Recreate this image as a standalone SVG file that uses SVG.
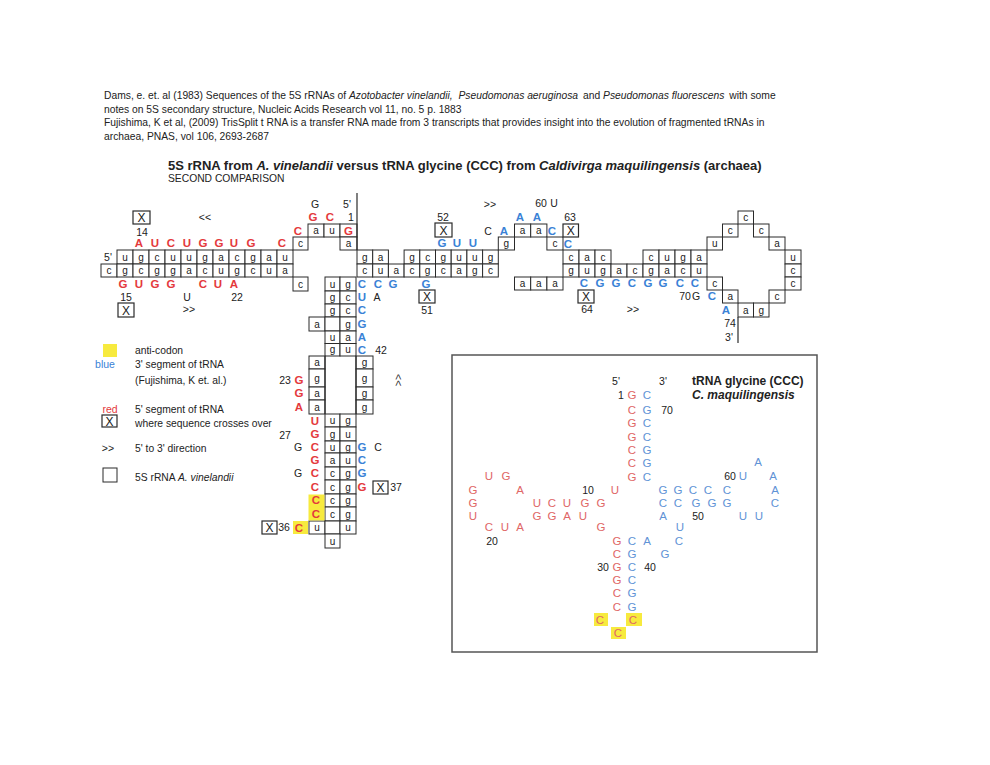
<svg xmlns="http://www.w3.org/2000/svg" width="990" height="765" viewBox="0 0 990 765">
<style>
.bg{fill:#fff}
.c{fill:#fff;stroke:#2a2a2a;stroke-width:1}
.x{fill:#fff;stroke:#2a2a2a;stroke-width:1.2}
text{font-family:'Liberation Sans',Arial,sans-serif}
.t{font-size:10px;text-anchor:middle;fill:#222}
.k{font-size:10.5px;text-anchor:middle;fill:#222}
.xl{font-size:12px;text-anchor:middle;fill:#222}
.r{font-size:11.5px;font-weight:bold;text-anchor:middle;fill:#e4393c}
.b{font-size:11.5px;font-weight:bold;text-anchor:middle;fill:#3a82d6}
.tr{font-size:11.5px;text-anchor:middle;fill:#e06666}
.tb{font-size:11.5px;text-anchor:middle;fill:#5f93d6}
.h{font-size:10.3px;fill:#222}
.yl{fill:#f7ea3e}
.ln{stroke:#2a2a2a;stroke-width:1.2;fill:none}
</style>
<rect class="bg" x="0" y="0" width="990" height="765"/>

<g id="header">
<text class="h" x="104" y="99">Dams, e. et. al (1983) Sequences of the 5S rRNAs of <tspan font-style="italic">Azotobacter vinelandii,</tspan> <tspan dx="3" font-style="italic">Pseudomonas aeruginosa</tspan> <tspan dx="2">and</tspan> <tspan font-style="italic">Pseudomonas fluorescens</tspan> <tspan dx="2">with some</tspan></text>
<text class="h" x="104" y="113">notes on 5S secondary structure, Nucleic Acids Research vol 11, no. 5 p. 1883</text>
<text class="h" x="104" y="126">Fujishima, K et al, (2009) TrisSplit t RNA is a transfer RNA made from 3 transcripts that provides insight into the evolution of fragmented tRNAs in</text>
<text class="h" x="104" y="140">archaea, PNAS, vol 106, 2693-2687</text>
<text x="168" y="170" font-size="13" font-weight="bold" fill="#222">5S rRNA from <tspan font-style="italic">A. vinelandii</tspan>  versus tRNA glycine (CCC) from <tspan font-style="italic">Caldivirga maquilingensis</tspan>  (archaea)</text>
<text class="h" x="168" y="182">SECOND COMPARISON</text>
</g>

<g id="arm-left">
<rect class="c" x="117" y="250" width="16" height="14"/><text class="t" x="125" y="260.5">u</text>
<rect class="c" x="133" y="250" width="16" height="14"/><text class="t" x="141" y="260.5">g</text>
<rect class="c" x="149" y="250" width="16" height="14"/><text class="t" x="157" y="260.5">c</text>
<rect class="c" x="165" y="250" width="16" height="14"/><text class="t" x="173" y="260.5">u</text>
<rect class="c" x="181" y="250" width="16" height="14"/><text class="t" x="189" y="260.5">u</text>
<rect class="c" x="197" y="250" width="16" height="14"/><text class="t" x="205" y="260.5">g</text>
<rect class="c" x="213" y="250" width="16" height="14"/><text class="t" x="221" y="260.5">a</text>
<rect class="c" x="229" y="250" width="16" height="14"/><text class="t" x="237" y="260.5">c</text>
<rect class="c" x="245" y="250" width="16" height="14"/><text class="t" x="253" y="260.5">g</text>
<rect class="c" x="261" y="250" width="16" height="14"/><text class="t" x="269" y="260.5">a</text>
<rect class="c" x="277" y="250" width="16" height="14"/><text class="t" x="285" y="260.5">u</text>
<rect class="c" x="101" y="264" width="16" height="13"/><text class="t" x="109" y="274">c</text>
<rect class="c" x="117" y="264" width="16" height="13"/><text class="t" x="125" y="274">g</text>
<rect class="c" x="133" y="264" width="16" height="13"/><text class="t" x="141" y="274">c</text>
<rect class="c" x="149" y="264" width="16" height="13"/><text class="t" x="157" y="274">g</text>
<rect class="c" x="165" y="264" width="16" height="13"/><text class="t" x="173" y="274">g</text>
<rect class="c" x="181" y="264" width="16" height="13"/><text class="t" x="189" y="274">a</text>
<rect class="c" x="197" y="264" width="16" height="13"/><text class="t" x="205" y="274">c</text>
<rect class="c" x="213" y="264" width="16" height="13"/><text class="t" x="221" y="274">u</text>
<rect class="c" x="229" y="264" width="16" height="13"/><text class="t" x="237" y="274">g</text>
<rect class="c" x="245" y="264" width="16" height="13"/><text class="t" x="253" y="274">c</text>
<rect class="c" x="261" y="264" width="16" height="13"/><text class="t" x="269" y="274">u</text>
<rect class="c" x="277" y="264" width="16" height="13"/><text class="t" x="285" y="274">a</text>
<text class="k" x="108" y="261">5'</text>
<rect class="x" x="133" y="211" width="17" height="13"/><text class="xl" x="141.5" y="222">X</text>
<text class="k" x="142" y="236">14</text>
<text class="k" x="205" y="221">&lt;&lt;</text>
<text class="r" x="139" y="247">A</text><text class="r" x="155" y="247">U</text><text class="r" x="171" y="247">C</text><text class="r" x="187" y="247">U</text>
<text class="r" x="203" y="247">G</text><text class="r" x="219" y="247">G</text><text class="r" x="234" y="247">U</text><text class="r" x="251" y="247">G</text>
<text class="r" x="282" y="247">C</text>
<text class="r" x="123" y="288">G</text><text class="r" x="139" y="288">U</text><text class="r" x="155" y="288">G</text><text class="r" x="171" y="288">G</text>
<text class="r" x="203" y="288">C</text><text class="r" x="218" y="288">U</text><text class="r" x="234" y="288">A</text>
<text class="k" x="126" y="301">15</text><text class="k" x="187" y="301">U</text><text class="k" x="237" y="301">22</text>
<rect class="x" x="118" y="303" width="16" height="14"/><text class="xl" x="126" y="314.5">X</text>
<text class="k" x="189" y="313">&gt;&gt;</text>
</g>

<g id="junction-top">
<rect class="c" x="293" y="237" width="15" height="13"/><text class="t" x="300.5" y="247">c</text>
<rect class="c" x="293" y="277" width="15" height="14"/><text class="t" x="300.5" y="287.5">c</text>
<rect class="c" x="308" y="224" width="16" height="13"/><text class="t" x="316" y="234">a</text>
<rect class="c" x="324" y="224" width="16" height="13"/><text class="t" x="332" y="234">u</text>
<rect class="c" x="340" y="224" width="17" height="13"/><text class="r" x="348.5" y="235">G</text>
<rect class="c" x="340" y="237" width="17" height="13"/><text class="t" x="348.5" y="247">a</text>
<text class="r" x="298" y="235">C</text>
<text class="k" x="315" y="208">G</text><text class="k" x="347" y="208">5'</text>
<text class="r" x="313" y="221">G</text><text class="r" x="330" y="221">C</text>
<text class="k" x="351" y="221">1</text>
<line class="ln" x1="357" y1="193" x2="357" y2="250"/>
</g>

<g id="arm-middle">
<rect class="c" x="357" y="250" width="15.7" height="14"/><text class="t" x="364.85" y="260.5">g</text>
<rect class="c" x="372.7" y="250" width="15.7" height="14"/><text class="t" x="380.55" y="260.5">a</text>
<rect class="c" x="404.1" y="250" width="15.7" height="14"/><text class="t" x="411.95" y="260.5">g</text>
<rect class="c" x="419.8" y="250" width="15.7" height="14"/><text class="t" x="427.65" y="260.5">c</text>
<rect class="c" x="435.5" y="250" width="15.7" height="14"/><text class="t" x="443.35" y="260.5">g</text>
<rect class="c" x="451.2" y="250" width="15.7" height="14"/><text class="t" x="459.05" y="260.5">u</text>
<rect class="c" x="466.9" y="250" width="15.7" height="14"/><text class="t" x="474.75" y="260.5">u</text>
<rect class="c" x="482.6" y="250" width="15.7" height="14"/><text class="t" x="490.45" y="260.5">g</text>
<rect class="c" x="357" y="264" width="15.7" height="13"/><text class="t" x="364.85" y="274">c</text>
<rect class="c" x="372.7" y="264" width="15.7" height="13"/><text class="t" x="380.55" y="274">u</text>
<rect class="c" x="388.4" y="264" width="15.7" height="13"/><text class="t" x="396.25" y="274">a</text>
<rect class="c" x="404.1" y="264" width="15.7" height="13"/><text class="t" x="411.95" y="274">c</text>
<rect class="c" x="419.8" y="264" width="15.7" height="13"/><text class="t" x="427.65" y="274">g</text>
<rect class="c" x="435.5" y="264" width="15.7" height="13"/><text class="t" x="443.35" y="274">c</text>
<rect class="c" x="451.2" y="264" width="15.7" height="13"/><text class="t" x="459.05" y="274">a</text>
<rect class="c" x="466.9" y="264" width="15.7" height="13"/><text class="t" x="474.75" y="274">g</text>
<rect class="c" x="482.6" y="264" width="15.7" height="13"/><text class="t" x="490.45" y="274">c</text>
<text class="k" x="490" y="208">&gt;&gt;</text>
<text class="k" x="443" y="221">52</text>
<rect class="x" x="435" y="223" width="17" height="14"/><text class="xl" x="443.5" y="234.5">X</text>
<text class="b" x="442" y="247">G</text><text class="b" x="457" y="247">U</text><text class="b" x="473" y="247">U</text>
<text class="b" x="362" y="288">C</text><text class="b" x="378" y="288">C</text><text class="b" x="393" y="288">G</text>
<text class="b" x="426" y="288">G</text>
<rect class="x" x="419" y="290" width="16" height="13"/><text class="xl" x="427" y="301">X</text>
<text class="k" x="427" y="314">51</text>
</g>

<g id="loop-top">
<rect class="c" x="498.3" y="237" width="16.2" height="13"/><text class="t" x="506.4" y="247">g</text>
<rect class="c" x="514.5" y="224" width="16.2" height="13"/><text class="t" x="522.6" y="234">a</text>
<rect class="c" x="530.7" y="224" width="16.2" height="13"/><text class="t" x="538.8" y="234">a</text>
<rect class="c" x="546.9" y="237" width="16.1" height="13"/><text class="t" x="555" y="247">c</text>
<rect class="c" x="514.5" y="277" width="16.2" height="13"/><text class="t" x="522.6" y="287">a</text>
<rect class="c" x="530.7" y="277" width="16.2" height="13"/><text class="t" x="538.8" y="287">a</text>
<rect class="c" x="546.9" y="277" width="16.1" height="13"/><text class="t" x="555" y="287">a</text>
<text class="k" x="488" y="235">C</text>
<text class="b" x="504" y="235">A</text>
<text class="k" x="541" y="207">60</text><text class="k" x="554" y="207">U</text>
<text class="b" x="520" y="221">A</text><text class="b" x="537" y="221">A</text>
<text class="k" x="570" y="221">63</text>
<text class="b" x="552" y="235">C</text>
<rect class="x" x="563" y="224" width="15.5" height="13"/><text class="xl" x="570.75" y="235">X</text>
<text class="b" x="568" y="248">C</text>
</g>

<g id="arm-right">
<rect class="c" x="563" y="250" width="16" height="14"/><text class="t" x="571" y="260.5">c</text>
<rect class="c" x="579" y="250" width="16" height="14"/><text class="t" x="587" y="260.5">a</text>
<rect class="c" x="595" y="250" width="16" height="14"/><text class="t" x="603" y="260.5">c</text>
<rect class="c" x="643" y="250" width="16" height="14"/><text class="t" x="651" y="260.5">c</text>
<rect class="c" x="659" y="250" width="16" height="14"/><text class="t" x="667" y="260.5">u</text>
<rect class="c" x="675" y="250" width="16" height="14"/><text class="t" x="683" y="260.5">g</text>
<rect class="c" x="691" y="250" width="16" height="14"/><text class="t" x="699" y="260.5">a</text>
<rect class="c" x="563" y="264" width="16" height="13"/><text class="t" x="571" y="274">g</text>
<rect class="c" x="579" y="264" width="16" height="13"/><text class="t" x="587" y="274">u</text>
<rect class="c" x="595" y="264" width="16" height="13"/><text class="t" x="603" y="274">g</text>
<rect class="c" x="611" y="264" width="16" height="13"/><text class="t" x="619" y="274">a</text>
<rect class="c" x="627" y="264" width="16" height="13"/><text class="t" x="635" y="274">c</text>
<rect class="c" x="643" y="264" width="16" height="13"/><text class="t" x="651" y="274">g</text>
<rect class="c" x="659" y="264" width="16" height="13"/><text class="t" x="667" y="274">a</text>
<rect class="c" x="675" y="264" width="16" height="13"/><text class="t" x="683" y="274">c</text>
<rect class="c" x="691" y="264" width="16" height="13"/><text class="t" x="699" y="274">u</text>
<text class="b" x="584" y="287">C</text><text class="b" x="600" y="287">G</text><text class="b" x="616" y="287">G</text><text class="b" x="632" y="287">C</text>
<text class="b" x="648" y="287">G</text><text class="b" x="663" y="287">G</text><text class="b" x="680" y="287">C</text><text class="b" x="695" y="287">C</text>
<rect class="x" x="578" y="290" width="16" height="13"/><text class="xl" x="586" y="301">X</text>
<text class="k" x="587" y="313">64</text>
<text class="k" x="633" y="313">&gt;&gt;</text>
</g>

<g id="loop-right">
<rect class="c" x="707" y="237" width="15.5" height="13"/><text class="t" x="714.75" y="247">u</text>
<rect class="c" x="722.5" y="224" width="15.5" height="13"/><text class="t" x="730.25" y="234">c</text>
<rect class="c" x="738" y="211" width="15.5" height="13"/><text class="t" x="745.75" y="221">c</text>
<rect class="c" x="753.5" y="224" width="15.5" height="13"/><text class="t" x="761.25" y="234">c</text>
<rect class="c" x="769" y="237" width="16" height="13"/><text class="t" x="777" y="247">a</text>
<rect class="c" x="785" y="250" width="16" height="14"/><text class="t" x="793" y="260.5">u</text>
<rect class="c" x="785" y="264" width="16" height="13"/><text class="t" x="793" y="274">c</text>
<rect class="c" x="785" y="277" width="16" height="13"/><text class="t" x="793" y="287">c</text>
<rect class="c" x="769" y="290" width="16" height="13"/><text class="t" x="777" y="300">c</text>
<rect class="c" x="753.5" y="303" width="15.5" height="14"/><text class="t" x="761.25" y="313.5">g</text>
<rect class="c" x="738" y="303" width="15.5" height="14"/><text class="t" x="745.75" y="313.5">a</text>
<rect class="c" x="722.5" y="290" width="15.5" height="13"/><text class="t" x="730.25" y="300">a</text>
<rect class="c" x="707" y="277" width="15.5" height="13"/><text class="t" x="714.75" y="287">c</text>
<text class="k" x="685" y="300">70</text><text class="k" x="696" y="300">G</text>
<text class="b" x="712" y="300">C</text>
<text class="b" x="726" y="314">A</text>
<text class="k" x="730" y="327">74</text>
<text class="k" x="729" y="341">3'</text>
<line class="ln" x1="738" y1="317" x2="738" y2="343"/>
</g>

<g id="stem">
<rect class="c" x="325" y="277" width="15" height="14"/><text class="t" x="332.5" y="287.5">u</text>
<rect class="c" x="340" y="277" width="16" height="14"/><text class="t" x="348" y="287.5">g</text>
<rect class="c" x="325" y="291" width="15" height="13"/><text class="t" x="332.5" y="301">g</text>
<rect class="c" x="340" y="291" width="16" height="13"/><text class="t" x="348" y="301">c</text>
<rect class="c" x="325" y="304" width="15" height="13"/><text class="t" x="332.5" y="314">g</text>
<rect class="c" x="340" y="304" width="16" height="13"/><text class="t" x="348" y="314">c</text>
<rect class="c" x="309" y="317" width="16" height="14"/><text class="t" x="317" y="327.5">a</text>
<rect class="c" x="325" y="317" width="15" height="14"/>
<rect class="c" x="340" y="317" width="16" height="14"/><text class="t" x="348" y="327.5">g</text>
<rect class="c" x="325" y="331" width="15" height="12.5"/><text class="t" x="332.5" y="340.7">u</text>
<rect class="c" x="340" y="331" width="16" height="12.5"/><text class="t" x="348" y="340.7">a</text>
<rect class="c" x="325" y="343.5" width="15" height="12.5"/><text class="t" x="332.5" y="353.2">g</text>
<rect class="c" x="340" y="343.5" width="16" height="12.5"/><text class="t" x="348" y="353.2">u</text>
<rect class="c" x="309" y="356" width="16" height="13"/><text class="t" x="317" y="366">a</text>
<rect class="c" x="309" y="369" width="16" height="18"/><text class="t" x="317" y="381.5">g</text>
<rect class="c" x="309" y="387" width="16" height="13"/><text class="t" x="317" y="397">a</text>
<rect class="c" x="309" y="400" width="16" height="14"/><text class="t" x="317" y="410.5">a</text>
<rect class="c" x="356" y="356" width="17" height="13"/><text class="t" x="364.5" y="366">g</text>
<rect class="c" x="356" y="369" width="17" height="18"/><text class="t" x="364.5" y="381.5">g</text>
<rect class="c" x="356" y="387" width="17" height="13"/><text class="t" x="364.5" y="397">g</text>
<rect class="c" x="356" y="400" width="17" height="14"/><text class="t" x="364.5" y="410.5">g</text>
<line class="ln" x1="325" y1="356" x2="325" y2="414"/>
<line class="ln" x1="356" y1="356" x2="356" y2="414"/>
<rect class="c" x="325" y="414" width="15" height="13"/><text class="t" x="332.5" y="424">u</text>
<rect class="c" x="340" y="414" width="16" height="13"/><text class="t" x="348" y="424">g</text>
<rect class="c" x="325" y="427" width="15" height="14"/><text class="t" x="332.5" y="437.5">g</text>
<rect class="c" x="340" y="427" width="16" height="14"/><text class="t" x="348" y="437.5">u</text>
<rect class="c" x="325" y="441" width="15" height="12"/><text class="t" x="332.5" y="450.5">u</text>
<rect class="c" x="340" y="441" width="16" height="12"/><text class="t" x="348" y="450.5">g</text>
<rect class="c" x="325" y="453" width="15" height="14"/><text class="t" x="332.5" y="463.5">a</text>
<rect class="c" x="340" y="453" width="16" height="14"/><text class="t" x="348" y="463.5">u</text>
<rect class="c" x="325" y="467" width="15" height="13"/><text class="t" x="332.5" y="477">c</text>
<rect class="c" x="340" y="467" width="16" height="13"/><text class="t" x="348" y="477">g</text>
<rect class="c" x="325" y="480" width="15" height="14"/><text class="t" x="332.5" y="490.5">c</text>
<rect class="c" x="340" y="480" width="16" height="14"/><text class="t" x="348" y="490.5">g</text>
<rect class="c" x="325" y="494" width="15" height="13"/><text class="t" x="332.5" y="504">c</text>
<rect class="c" x="340" y="494" width="16" height="13"/><text class="t" x="348" y="504">g</text>
<rect class="c" x="325" y="507" width="15" height="14"/><text class="t" x="332.5" y="517.5">c</text>
<rect class="c" x="340" y="507" width="16" height="14"/><text class="t" x="348" y="517.5">g</text>
<rect class="c" x="309" y="521" width="16" height="13"/><text class="t" x="317" y="531">u</text>
<rect class="c" x="325" y="521" width="15" height="13"/>
<rect class="c" x="340" y="521" width="16" height="13"/><text class="t" x="348" y="531">u</text>
<rect class="c" x="325" y="534" width="15" height="14"/><text class="t" x="332.5" y="544.5">u</text>
<text class="b" x="362" y="301">U</text><text class="k" x="377" y="301">A</text>
<text class="b" x="362" y="314">C</text>
<text class="b" x="362" y="328">G</text>
<text class="b" x="362" y="341">A</text>
<text class="b" x="362" y="354">C</text>
<text class="k" x="381" y="354">42</text>
<text class="k" x="285" y="384">23</text>
<text class="r" x="299" y="384">G</text>
<text class="r" x="299" y="397">G</text>
<text class="r" x="299" y="411">A</text>
<text class="k" transform="translate(398,380) rotate(-90)" y="3.5">&gt;&gt;</text>
<text class="r" x="315" y="425">U</text>
<text class="k" x="285" y="439">27</text>
<text class="r" x="315" y="438">G</text>
<text class="k" x="298" y="451">G</text><text class="r" x="315" y="451">C</text>
<text class="b" x="362" y="451">G</text><text class="k" x="378" y="451">C</text>
<text class="r" x="315" y="464">G</text><text class="b" x="362" y="464">C</text>
<text class="k" x="298" y="477">G</text><text class="r" x="315" y="477">C</text><text class="b" x="362" y="477">G</text>
<text class="r" x="315" y="491">C</text><text class="r" x="362" y="491">G</text>
<rect class="x" x="373" y="481" width="15" height="13"/><text class="xl" x="380.5" y="492">X</text>
<text class="k" x="396" y="491">37</text>
<rect class="yl" x="308.5" y="494.5" width="16" height="26"/>
<text class="r" x="316" y="504">C</text>
<text class="r" x="316" y="518">C</text>
<rect class="x" x="262" y="521" width="15" height="13"/><text class="xl" x="269.5" y="532">X</text>
<text class="k" x="284" y="531">36</text>
<rect class="yl" x="293" y="521" width="15" height="13"/>
<text class="r" x="299" y="531.5">C</text>
</g>

<g id="legend">
<rect class="yl" x="103" y="344" width="14" height="13"/>
<text class="h" x="135" y="354">anti-codon</text>
<text x="105" y="368" font-size="10.5" text-anchor="middle" fill="#3a82d6">blue</text>
<text class="h" x="135" y="368">3' segment of tRNA</text>
<text class="h" x="135" y="384">(Fujishima, K et. al.)</text>
<text x="110" y="413" font-size="10.5" text-anchor="middle" fill="#e4393c">red</text>
<text class="h" x="135" y="413">5' segment of tRNA</text>
<rect class="x" x="102" y="415" width="15" height="12"/><text class="xl" x="109.5" y="425.5">X</text>
<text class="h" x="135" y="427">where sequence crosses over</text>
<text class="k" x="108" y="452">&gt;&gt;</text>
<text class="h" x="135" y="452">5' to 3' direction</text>
<rect class="c" x="103" y="468" width="14" height="14"/>
<text class="h" x="135" y="481">5S rRNA <tspan font-style="italic">A. vinelandii</tspan></text>
</g>

<g id="trna">
<rect x="452" y="355" width="365" height="297" fill="none" stroke="#555" stroke-width="1.5"/>
<text class="k" x="616" y="385">5'</text><text class="k" x="663" y="385">3'</text>
<text x="692" y="385" font-size="12" font-weight="bold" fill="#222">tRNA glycine (CCC)</text>
<text x="692" y="399" font-size="12" font-weight="bold" font-style="italic" fill="#222">C. maquilingensis</text>
<text class="k" x="621" y="399">1</text>
<text class="tr" x="632" y="399">G</text><text class="tb" x="647" y="399">C</text>
<text class="tr" x="632" y="414">C</text><text class="tb" x="647" y="414">G</text><text class="k" x="667" y="414">70</text>
<text class="tr" x="632" y="427">G</text><text class="tb" x="647" y="427">C</text>
<text class="tr" x="632" y="441">G</text><text class="tb" x="647" y="441">C</text>
<text class="tr" x="632" y="454">C</text><text class="tb" x="647" y="454">G</text>
<text class="tr" x="632" y="467">C</text><text class="tb" x="647" y="467">G</text>
<text class="tb" x="758" y="466">A</text>
<text class="tr" x="632" y="481">G</text><text class="tb" x="647" y="481">C</text>
<text class="tr" x="489" y="480">U</text><text class="tr" x="506" y="480">G</text>
<text class="k" x="730" y="480">60</text><text class="tb" x="743" y="480">U</text><text class="tb" x="773" y="480">A</text>
<text class="tr" x="473" y="494">G</text><text class="tr" x="520" y="494">A</text><text class="k" x="588" y="494">10</text><text class="tr" x="615" y="494">U</text>
<text class="tb" x="663" y="494">G</text><text class="tb" x="678" y="494">G</text><text class="tb" x="693" y="494">C</text><text class="tb" x="708" y="494">C</text><text class="tb" x="727" y="494">C</text>
<text class="tb" x="775" y="494">A</text>
<text class="tr" x="473" y="507">G</text>
<text class="tr" x="537" y="507">U</text><text class="tr" x="552" y="507">C</text><text class="tr" x="567" y="507">U</text><text class="tr" x="585" y="507">G</text><text class="tr" x="601" y="507">G</text>
<text class="tb" x="663" y="507">C</text><text class="tb" x="678" y="507">C</text><text class="tb" x="696" y="507">G</text><text class="tb" x="712" y="507">G</text><text class="tb" x="727" y="507">G</text>
<text class="tb" x="775" y="507">C</text>
<text class="tr" x="473" y="520">U</text>
<text class="tr" x="537" y="520">G</text><text class="tr" x="552" y="520">G</text><text class="tr" x="567" y="520">A</text><text class="tr" x="583" y="520">U</text>
<text class="tb" x="663" y="520">A</text><text class="k" x="698" y="520">50</text><text class="tb" x="743" y="520">U</text><text class="tb" x="759" y="520">U</text>
<text class="tr" x="489" y="531">C</text><text class="tr" x="505" y="531">U</text><text class="tr" x="520" y="531">A</text>
<text class="tr" x="601" y="531">G</text><text class="tb" x="680" y="531">U</text>
<text class="k" x="492" y="545">20</text>
<text class="tr" x="617" y="545">G</text><text class="tb" x="632" y="545">C</text><text class="tb" x="647" y="545">A</text><text class="tb" x="679" y="545">C</text>
<text class="tr" x="617" y="558">C</text><text class="tb" x="632" y="558">G</text><text class="tb" x="665" y="558">G</text>
<text class="k" x="603" y="571">30</text><text class="tr" x="617" y="571">G</text><text class="tb" x="632" y="571">C</text><text class="k" x="650" y="571">40</text>
<text class="tr" x="617" y="584">G</text><text class="tb" x="632" y="584">C</text>
<text class="tr" x="617" y="597">C</text><text class="tb" x="632" y="597">G</text>
<text class="tr" x="617" y="611">C</text><text class="tb" x="632" y="611">G</text>
<rect class="yl" x="594" y="613" width="14" height="13"/>
<rect class="yl" x="626" y="613" width="16" height="13"/>
<rect class="yl" x="611" y="627" width="15" height="12"/>
<text class="tr" x="600" y="624">C</text><text class="tr" x="633" y="624">C</text>
<text class="tr" x="618" y="637">C</text>
</g>
</svg>
